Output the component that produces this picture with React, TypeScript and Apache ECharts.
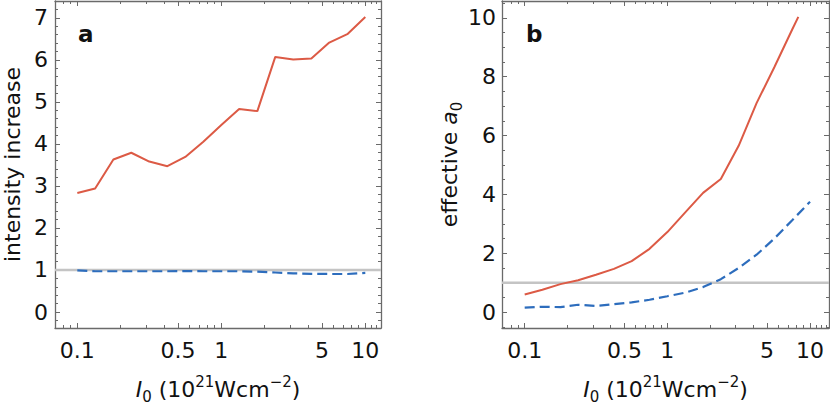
import React, { useEffect, useRef } from "react";
import * as echarts from "echarts";

// ---------- data ----------
const intensityA = [0.1, 0.133, 0.178, 0.237, 0.316, 0.422, 0.562, 0.75, 1, 1.33, 1.78, 2.37, 3.16, 4.22, 5.62, 7.5, 10];
const increaseRed = [2.83, 2.94, 3.63, 3.79, 3.58, 3.47, 3.69, 4.05, 4.45, 4.83, 4.78, 6.07, 6.01, 6.03, 6.41, 6.61, 7.02];
const increaseBlue = [0.99, 0.97, 0.97, 0.97, 0.97, 0.97, 0.975, 0.97, 0.97, 0.97, 0.96, 0.94, 0.92, 0.91, 0.905, 0.905, 0.93];

const intensityBRed = [0.1, 0.133, 0.178, 0.237, 0.316, 0.422, 0.562, 0.75, 1, 1.33, 1.78, 2.37, 3.16, 4.22, 5.62, 7.5, 8.28];
const a0Red = [0.6, 0.76, 0.95, 1.08, 1.27, 1.47, 1.73, 2.15, 2.72, 3.38, 4.05, 4.52, 5.65, 7.1, 8.32, 9.6, 10.03];
const intensityBBlue = [0.1, 0.133, 0.178, 0.237, 0.316, 0.422, 0.562, 0.75, 1, 1.33, 1.78, 2.37, 3.16, 4.22, 5.62, 7.5, 10];
const a0Blue = [0.15, 0.18, 0.17, 0.25, 0.21, 0.27, 0.33, 0.42, 0.54, 0.66, 0.85, 1.12, 1.5, 1.95, 2.5, 3.12, 3.75];

const referenceLevel = 1;

const xTickLabels = [0.1, 0.5, 1, 5, 10];
const xMinorTicks = [0.08, 0.09, 0.2, 0.3, 0.4, 0.6, 0.7, 0.8, 0.9, 2, 3, 4, 6, 7, 8, 9, 11, 12, 13];
const yTicksA = [0, 1, 2, 3, 4, 5, 6, 7];
const yMinorA = [-0.2, 0.2, 0.4, 0.6, 0.8, 1.2, 1.4, 1.6, 1.8, 2.2, 2.4, 2.6, 2.8, 3.2, 3.4, 3.6, 3.8, 4.2, 4.4, 4.6, 4.8, 5.2, 5.4, 5.6, 5.8, 6.2, 6.4, 6.6, 6.8, 7.2];
const yTicksB = [0, 2, 4, 6, 8, 10];
const yMinorB = [-0.5, 0.5, 1, 1.5, 2.5, 3, 3.5, 4.5, 5, 5.5, 6.5, 7, 7.5, 8.5, 9, 9.5, 10.5];

// ---------- style ----------
const FONT = "DejaVu Sans";
const TEXT = "#111";
const FRAME = "#6a6a6a";
const RED = "#dc5a45";
const BLUE = "#2d6dbd";
const GRAY = "#c4c4c4";

const lg = (v: number) => Math.log10(v);

const richStyles = {
  t: { fontFamily: FONT, fontSize: 22, color: TEXT, lineHeight: 30, verticalAlign: "middle" },
  i: { fontFamily: FONT, fontSize: 22, color: TEXT, lineHeight: 30, verticalAlign: "middle", fontStyle: "italic" },
  sub: { fontFamily: FONT, fontSize: 15, color: TEXT, lineHeight: 14, verticalAlign: "bottom" },
  sup: { fontFamily: FONT, fontSize: 15, color: TEXT, lineHeight: 14, verticalAlign: "top" },
};

const xName = "{i|I}{sub|0}{t| (10}{sup|21}{t|Wcm}{sup|−2}{t|)}";

function makeAxes(
  grid: number,
  xMin: number,
  xMax: number,
  yMin: number,
  yMax: number,
  yMajor: number[],
  yMinor: number[],
  yName: string,
  yNameGap: number,
  yLabelMargin: number
) {
  const xMajorLog = xTickLabels.map(lg);
  const xMinorLog = xMinorTicks.map(lg).filter((v) => v > xMin && v < xMax);
  const lineOn = { show: true, onZero: false, lineStyle: { color: FRAME, width: 1.3 } };
  const lineOff = { show: false, onZero: false };
  const tick = (vals: number[], len: number) => ({
    show: true,
    inside: true,
    length: len,
    customValues: vals,
    lineStyle: { color: FRAME, width: 1 },
  });
  const xb = { gridIndex: grid, type: "value", min: xMin, max: xMax, splitLine: { show: false } };
  const yb = { gridIndex: grid, type: "value", min: yMin, max: yMax, splitLine: { show: false } };
  const fmtX = (v: number) => {
    const r = Math.pow(10, v);
    let best = xTickLabels[0];
    for (const l of xTickLabels) if (Math.abs(l - r) < Math.abs(best - r)) best = l;
    return String(best);
  };
  const xAxes = [
    {
      ...xb,
      position: "bottom",
      axisLine: lineOn,
      axisTick: tick(xMajorLog, 5),
      axisLabel: { show: true, customValues: xMajorLog, formatter: fmtX, margin: 11, fontSize: 22, fontFamily: FONT, color: TEXT },
      name: xName,
      nameLocation: "middle",
      nameGap: 46,
      nameTextStyle: { fontFamily: FONT, fontSize: 22, color: TEXT, lineHeight: 30, rich: richStyles },
    },
    { ...xb, position: "bottom", axisLine: lineOff, axisTick: tick(xMinorLog, 3), axisLabel: { show: false } },
    { ...xb, position: "top", axisLine: lineOn, axisTick: tick(xMajorLog, 5), axisLabel: { show: false } },
    { ...xb, position: "top", axisLine: lineOff, axisTick: tick(xMinorLog, 3), axisLabel: { show: false } },
  ];
  const yAxes = [
    {
      ...yb,
      position: "left",
      axisLine: lineOn,
      axisTick: tick(yMajor, 5),
      axisLabel: {
        show: true,
        customValues: yMajor,
        formatter: (v: number) => String(Math.round(v)),
        margin: yLabelMargin,
        fontSize: 22,
        fontFamily: FONT,
        color: TEXT,
      },
      name: yName,
      nameLocation: "middle",
      nameGap: yNameGap,
      nameTextStyle: { fontFamily: FONT, fontSize: 22, color: TEXT, lineHeight: 24, rich: richStyles },
    },
    { ...yb, position: "left", axisLine: lineOff, axisTick: tick(yMinor, 3), axisLabel: { show: false } },
    { ...yb, position: "right", axisLine: lineOn, axisTick: tick(yMajor, 5), axisLabel: { show: false } },
    { ...yb, position: "right", axisLine: lineOff, axisTick: tick(yMinor, 3), axisLabel: { show: false } },
  ];
  return { xAxes, yAxes };
}

const zip = (xs: number[], ys: number[]) => xs.map((x, i) => [lg(x), ys[i]]);

const RANGE_A = { xMin: -1.155, xMax: 1.109, yMin: -0.38, yMax: 7.4 };
const RANGE_B = { xMin: -1.159, xMax: 1.133, yMin: -0.54, yMax: 10.57 };

export default function App() {
  const ref = useRef<HTMLDivElement>(null);
  useEffect(() => {
    if (!ref.current) return;
    const chart = echarts.init(ref.current, null, { renderer: "svg" });
    const A = makeAxes(0, RANGE_A.xMin, RANGE_A.xMax, RANGE_A.yMin, RANGE_A.yMax, yTicksA, yMinorA, "intensity increase", 31, 7);
    const B = makeAxes(1, RANGE_B.xMin, RANGE_B.xMax, RANGE_B.yMin, RANGE_B.yMax, yTicksB, yMinorB, "{t|effective }{i|a}{sub|0}", 36, 6);
    const grayLine = (xi: number, r: { xMin: number; xMax: number }) => ({
      type: "line",
      xAxisIndex: xi,
      yAxisIndex: xi,
      data: [
        [r.xMin, referenceLevel],
        [r.xMax, referenceLevel],
      ],
      z: 1,
      showSymbol: false,
      symbol: "none",
      silent: true,
      lineStyle: { color: GRAY, width: 2.5 },
    });
    const line = (xi: number, data: number[][], color: string, dashed: boolean) => ({
      type: "line",
      xAxisIndex: xi,
      yAxisIndex: xi,
      data,
      z: 3,
      showSymbol: false,
      symbol: "none",
      silent: true,
      lineStyle: { color, width: dashed ? 2.2 : 2, type: dashed ? [10, 5] : "solid" },
    });
    chart.setOption({
      animation: false,
      grid: [
        { left: 55, top: 1, width: 326, height: 327, outerBoundsMode: "none" },
        { left: 502, top: 1, width: 327, height: 327, outerBoundsMode: "none" },
      ],
      xAxis: [...A.xAxes, ...B.xAxes],
      yAxis: [...A.yAxes, ...B.yAxes],
      series: [
        grayLine(0, RANGE_A),
        line(0, zip(intensityA, increaseBlue), BLUE, true),
        line(0, zip(intensityA, increaseRed), RED, false),
        grayLine(4, RANGE_B),
        line(4, zip(intensityBBlue, a0Blue), BLUE, true),
        line(4, zip(intensityBRed, a0Red), RED, false),
      ],
      graphic: [
        { type: "text", left: 78, top: 22, style: { text: "a", fontFamily: FONT, fontSize: 23, fontWeight: "bold", fill: TEXT } },
        { type: "text", left: 526, top: 22, style: { text: "b", fontFamily: FONT, fontSize: 23, fontWeight: "bold", fill: TEXT } },
      ],
    });
    return () => chart.dispose();
  }, []);
  return (
    <div
      ref={ref}
      style={{ position: "fixed", left: 0, top: 0, width: 830, height: 406, background: "#fff" }}
    />
  );
}
